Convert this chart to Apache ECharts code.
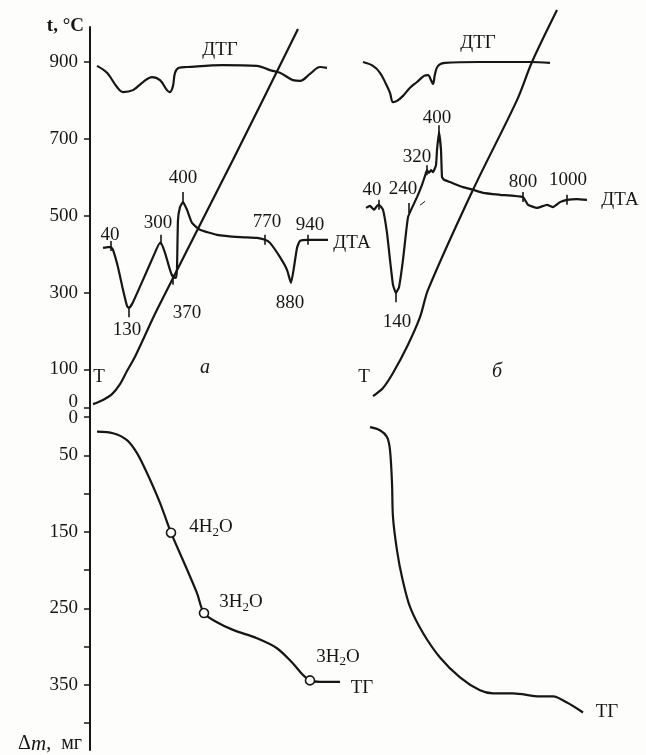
<!DOCTYPE html>
<html>
<head>
<meta charset="utf-8">
<script src="https://cdn.jsdelivr.net/npm/echarts@6/dist/echarts.min.js"></script>
<style>
html,body{margin:0;padding:0;background:#fdfdfb;}
#chart{width:646px;height:755px;}
</style>
</head>
<body>
<div id="chart"></div>
<script>
// ---- axis ticks / labels ----
const tempTicks = [0, 100, 300, 500, 700, 900];
const tempLabels = [0, 100, 300, 500, 700, 900];
const massTicks = [0, 50, 100, 150, 200, 250, 300, 350, 400];
const massLabels = [0, 50, 150, 250, 350];

// ---- panel а (top) : [position, value on t-scale] ----
const tA = [[3,10],[13,21],[22,36],[30,62],[37,96],[45,133],[67,255],[143,645],[208,985]];
const dtgA = [[7,889],[17,871],[27,834],[33,821],[43,826],[53,847],[62,860],[70,852],[77,826],[80,821],[83,837],[85,871],[89,884],[97,886],[133,891],[167,889],[180,878],[190,871],[203,852],[210,850],[220,868],[230,886],[237,884]];
const dtaA = [[13,416],[18,418],[21,418],[23,411],[28,366],[33,307],[37,265],[39,260],[43,275],[53,333],[63,392],[70,429],[71,429],[75,403],[80,359],[83,340],[86,338],[87,364],[88,489],[90,522],[93,535],[97,515],[102,481],[110,463],[127,450],[150,444],[167,442],[175,437],[180,429],[190,392],[197,359],[201,325],[204,366],[207,416],[210,434],[218,437],[238,437]];

// ---- panel б (top) ----
const tB = [[283,31],[293,52],[303,91],[317,159],[330,236],[338,307],[383,567],[427,800],[442,899],[467,1034]];
const dtgB = [[273,899],[283,889],[290,871],[296,842],[300,819],[303,795],[307,798],[313,811],[320,832],[327,847],[334,863],[338,865],[341,852],[343,842],[345,868],[348,889],[355,897],[390,899],[440,899],[460,897]];
const dtaB = [[276,520],[280,525],[284,515],[287,525],[289,528],[293,515],[297,455],[300,385],[303,320],[306,299],[309,314],[313,385],[316,455],[318,496],[320,509],[327,548],[332,580],[335,603],[337,618],[339,611],[341,618],[343,613],[346,631],[347,670],[349,717],[351,670],[352,600],[354,593],[360,587],[373,574],[383,567],[393,559],[410,554],[433,548],[438,528],[447,520],[457,528],[463,522],[470,535],[477,541],[487,543],[497,541]];
const dashB = [[330,527],[335,537]];

// ticks on DTA curves
const dtaTicks = [[21,421],[39,249],[71,437],[83,333],[93,548],[175,437],[218,437],
                  [289,528],[306,288],[319,520],[337,618],[349,722],[433,548],[477,541]];

// ---- TG (bottom), mass loss in mg ----
const tgA = [[7,19],[23,21],[37,30],[47,47],[57,73],[70,112],[81,151],[93,187],[107,230],[114,256],[127,268],[143,278],[167,289],[187,302],[203,322],[213,337],[220,344],[230,346],[250,346]];
const tgAPoints = [[81,151],[114,256],[220,344]];
const tgB = [[280,13],[290,17],[297,26],[300,43],[302,86],[303,131],[307,174],[312,209],[320,248],[333,282],[350,314],[370,340],[390,357],[403,361],[423,361],[450,365],[463,365],[477,373],[493,386]];

// ---- annotations ----
const topLabels = [
  [130,930,'ДТГ'],[388,949,'ДТГ'],
  [20,450,'40'],[68,481,'300'],[93,598,'400'],[37,203,'130'],[97,247,'370'],
  [177,483,'770'],[220,476,'940'],[200,273,'880'],[262,429,'ДТА'],
  [9,81,'T'],[115,104,'{it|а}'],[274,81,'T'],[407,94,'{it|б}'],
  [347,754,'400'],[327,652,'320'],[282,567,'40'],[313,569,'240'],
  [433,587,'800'],[478,593,'1000'],[307,223,'140'],[530,541,'ДТА']
];
const bottomLabels = [
  [121,144,'4H{sub|2}O'],[151,242,'3H{sub|2}O'],[248,313,'3H{sub|2}O'],
  [272,354,'ТГ'],[517,385,'ТГ']
];

const FONT = 'Liberation Serif';
const INK = '#161616';
const FS = 19;
const rich = {
  sub: {fontFamily: FONT, fontSize: 13, color: INK, padding: [10, 0, 0, 0]},
  it: {fontFamily: FONT, fontSize: 20, fontStyle: 'italic', color: INK},
  i: {fontFamily: FONT, fontSize: 21, fontStyle: 'italic', color: INK},
  up: {fontFamily: FONT, fontSize: FS, color: INK, padding: [0, 0, 11, 0]},
  dn: {fontFamily: FONT, fontSize: FS, color: INK, padding: [2, 0, 0, 0]}
};

function curve(data, xi, yi, smooth) {
  return {type: 'line', xAxisIndex: xi, yAxisIndex: yi, data: data, showSymbol: false,
    smooth: smooth, clip: false, lineStyle: {color: INK, width: 2.2}, silent: true, z: 3};
}
function labels(data, xi, yi) {
  return {type: 'scatter', xAxisIndex: xi, yAxisIndex: yi, data: data, symbolSize: 1,
    itemStyle: {color: 'rgba(0,0,0,0)', opacity: 1}, silent: true, z: 5,
    label: {show: true, position: 'inside', formatter: p => p.data[2],
      fontFamily: FONT, fontSize: FS, color: INK, opacity: 1, rich: rich}};
}

const axisCommon = {
  type: 'value', position: 'left', splitLine: {show: false},
  axisLine: {show: true, lineStyle: {color: INK, width: 2}},
  axisTick: {show: true, length: 6, lineStyle: {color: INK, width: 1.5}},
  axisLabel: {fontFamily: FONT, fontSize: FS, color: INK, margin: 12, rich: rich}
};

const option = {
  backgroundColor: '#fdfdfb',
  animation: false,
  grid: [
    {left: 90, width: 556, top: 27, height: 381},
    {left: 90, width: 556, top: 408, height: 342}
  ],
  xAxis: [
    {type: 'value', gridIndex: 0, min: 0, max: 556, show: false},
    {type: 'value', gridIndex: 1, min: 0, max: 556, show: false}
  ],
  yAxis: [
    Object.assign({}, axisCommon, {gridIndex: 0, min: 0, max: 990,
      axisTick: Object.assign({}, axisCommon.axisTick, {customValues: tempTicks}),
      axisLabel: Object.assign({}, axisCommon.axisLabel, {customValues: tempLabels,
        formatter: v => v === 0 ? '{up|0}' : String(v)}),
      name: 't, °C', nameLocation: 'end', nameGap: 1,
      nameTextStyle: {fontFamily: FONT, fontSize: 19, fontWeight: 'bold', color: INK, align: 'right', verticalAlign: 'middle', padding: [0, 6, 0, 0]}
    }),
    Object.assign({}, axisCommon, {gridIndex: 1, min: -12, max: 435, inverse: true,
      axisTick: Object.assign({}, axisCommon.axisTick, {customValues: massTicks}),
      axisLabel: Object.assign({}, axisCommon.axisLabel, {customValues: massLabels,
        formatter: v => v === 0 ? '{dn|0}' : String(v)}),
      name: 'Δ{i|m},  мг', nameLocation: 'end', nameGap: -6,
      nameTextStyle: {fontFamily: FONT, fontSize: 20, color: INK, align: 'right', verticalAlign: 'middle', padding: [0, 8, 0, 0], rich: rich}
    })
  ],
  series: [
    curve(tA, 0, 0, 0.3),
    curve(dtgA, 0, 0, 0.35),
    curve(dtaA, 0, 0, 0.15),
    curve(tB, 0, 0, 0.3),
    curve(dtgB, 0, 0, 0.35),
    curve(dtaB, 0, 0, 0.12),
    Object.assign(curve(dashB, 0, 0, false), {lineStyle: {color: INK, width: 1}}),
    {type: 'scatter', xAxisIndex: 0, yAxisIndex: 0, data: dtaTicks, symbol: 'rect',
      symbolSize: [1.6, 10], itemStyle: {color: INK, opacity: 1}, silent: true, z: 4},
    labels(topLabels, 0, 0),
    curve(tgA, 1, 1, 0.3),
    curve(tgB, 1, 1, 0.3),
    {type: 'scatter', xAxisIndex: 1, yAxisIndex: 1, data: tgAPoints, symbol: 'circle',
      symbolSize: 9, itemStyle: {color: '#fdfdfb', borderColor: INK, borderWidth: 1.6, opacity: 1}, silent: true, z: 6},
    labels(bottomLabels, 1, 1)
  ]
};

const chart = echarts.init(document.getElementById('chart'), null, {renderer: 'canvas'});
chart.setOption(option);
</script>
</body>
</html>
